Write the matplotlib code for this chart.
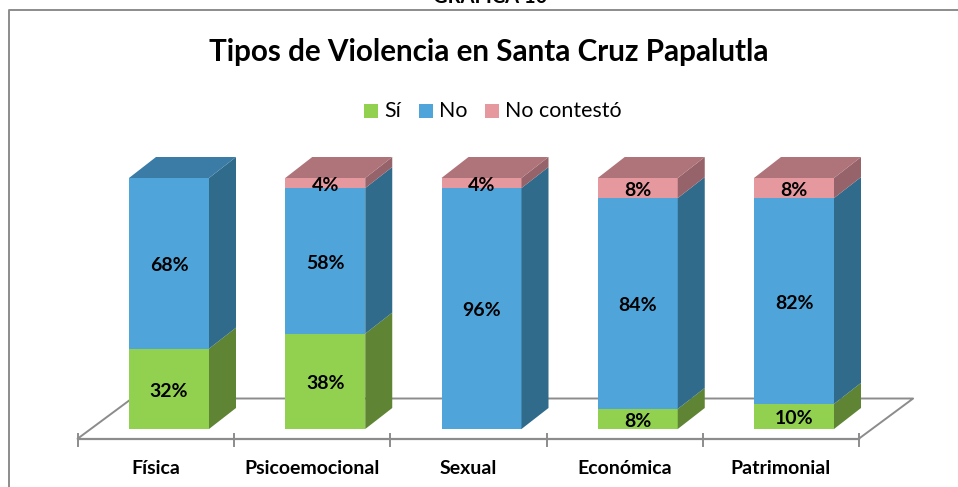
import matplotlib
matplotlib.use("Agg")
import matplotlib.pyplot as plt
from matplotlib.patches import Polygon, Rectangle

plt.rcParams['font.family'] = ['Lato', 'DejaVu Sans']

categorias = ["Física", "Psicoemocional", "Sexual", "Económica", "Patrimonial"]
si = [32, 38, 0, 8, 10]
no = [68, 58, 96, 84, 82]
no_contesto = [0, 4, 4, 8, 8]

series = [("Sí", si), ("No", no), ("No contestó", no_contesto)]
colores = ["#92d050", "#4fa5da", "#e6989f"]
colores_lado = ["#5f8433", "#316b8c", "#96636a"]
colores_tapa = ["#5f8433", "#3b7ca6", "#af737a"]

W, H = 958, 487
PX_X = 156.25
PX_Y = 2.51
X0 = 169
Y0 = 429

fig = plt.figure(figsize=(W / 100, H / 100), dpi=100)
ax = fig.add_axes([0, 0, 1, 1])
# ejes en unidades de categoria y de porcentaje
ax.set_xlim(-X0 / PX_X, (W - X0) / PX_X)
ax.set_ylim(-(H - Y0) / PX_Y, Y0 / PX_Y)
ax.axis("off")

ancho = 80 / PX_X
dx = 27 / PX_X
dy = 21 / PX_Y
gris = "#8c8c8c"

# marco exterior
ax.plot([(9 - X0) / PX_X, (9 - X0) / PX_X, (W - X0) / PX_X],
        [-(H - Y0) / PX_Y, (Y0 - 10) / PX_Y, (Y0 - 10) / PX_Y], color=gris, lw=1.4, zorder=1)

# piso
izq = -0.5 - 13 / PX_X
der = 4.5 - 13 / PX_X
piso_y = -9.5 / PX_Y
prof_x = 54 / PX_X
prof_y = 40 / PX_Y
ax.plot([izq, izq + prof_x, der + prof_x, der],
        [piso_y, piso_y + prof_y, piso_y + prof_y, piso_y], color=gris, lw=1.4, zorder=1)
ax.plot([izq, der], [piso_y, piso_y], color=gris, lw=1.6, zorder=1)
for i in range(len(categorias) + 1):
    ax.plot([izq + i, izq + i], [piso_y + 5 / PX_Y, piso_y - 7 / PX_Y], color=gris, lw=1.4, zorder=1)

# barras apiladas con caras laterales
for i, nombre in enumerate(categorias):
    base = 0
    ult = None
    for k, (etiqueta, valores) in enumerate(series):
        v = valores[i]
        if v == 0:
            continue
        x1 = i - ancho / 2
        x2 = i + ancho / 2
        ax.bar(i, v, width=ancho, bottom=base, color=colores[k], lw=0, zorder=3)
        ax.add_patch(Polygon([(x2, base), (x2 + dx, base + dy), (x2 + dx, base + v + dy), (x2, base + v)],
                             closed=True, fc=colores_lado[k], ec="none", zorder=3))
        ty = base + v / 2 - 0.9
        ax.text(i, ty, f"{v}%", ha="center", va="center", fontsize=14, fontweight="bold",
                color="black", zorder=5)
        base += v
        ult = k
    x1 = i - ancho / 2
    x2 = i + ancho / 2
    ax.add_patch(Polygon([(x1, base), (x1 + dx, base + dy), (x2 + dx, base + dy), (x2, base)],
                         closed=True, fc=colores_tapa[ult], ec="none", zorder=3))
    # las etiquetas van centradas entre las marcas del piso
    ax.text(i - 13 / PX_X, -(468 - Y0) / PX_Y, nombre, ha="center", va="center", fontsize=14,
            fontweight="bold", color="black", zorder=5)

# titulos
ax.text((489 - X0) / PX_X, (Y0 - 52) / PX_Y, "Tipos de Violencia en Santa Cruz Papalutla",
        ha="center", va="center", fontsize=21.3, fontweight="bold", color="black")
ax.text((490 - X0) / PX_X, (Y0 - 3) / PX_Y, "GRAFICA 10", ha="center", va="baseline",
        fontsize=14.5, fontweight="bold", color="black")

# leyenda
ley_x = [364, 419, 485]
for k, (etiqueta, valores) in enumerate(series):
    x = (ley_x[k] - X0) / PX_X
    y = (Y0 - 118) / PX_Y
    ax.add_patch(Rectangle((x, y), 14 / PX_X, 14 / PX_Y, fc=colores[k], ec="none"))
    ax.text(x + 20 / PX_X, y + 7 / PX_Y, etiqueta, ha="left", va="center", fontsize=15.4, color="black")

fig.savefig("out.png", dpi=100)
